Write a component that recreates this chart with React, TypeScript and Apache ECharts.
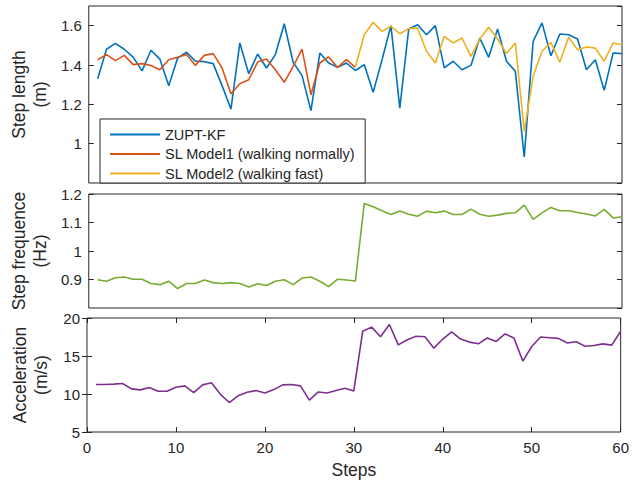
import React, { useEffect, useRef } from "react";
import * as echarts from "echarts";

const steps = [
  1, 2, 3, 4, 5, 6, 7, 8, 9, 10, 11, 12, 13, 14, 15, 16, 17, 18, 19, 20,
  21, 22, 23, 24, 25, 26, 27, 28, 29, 30, 31, 32, 33, 34, 35, 36, 37, 38, 39, 40,
  41, 42, 43, 44, 45, 46, 47, 48, 49, 50, 51, 52, 53, 54, 55, 56, 57, 58, 59, 60,
];

// Step length (m) — ZUPT-KF, steps 1..60
const zuptKF = [
  1.33, 1.48, 1.51, 1.48, 1.44, 1.37, 1.475, 1.43, 1.295, 1.435,
  1.465, 1.42, 1.417, 1.407, 1.295, 1.176, 1.512, 1.356, 1.456, 1.385,
  1.453, 1.61, 1.414, 1.346, 1.168, 1.461, 1.41, 1.388, 1.41, 1.372,
  1.402, 1.261, 1.427, 1.6, 1.181, 1.583, 1.605, 1.554, 1.6, 1.385,
  1.419, 1.376, 1.398, 1.537, 1.439, 1.583, 1.419, 1.368, 0.932, 1.52,
  1.614, 1.447, 1.558, 1.554, 1.532, 1.376, 1.427, 1.271, 1.461, 1.458,
];

// SL Model1 (walking normally), steps 1..30
const slModel1 = [
  1.427, 1.453, 1.422, 1.449, 1.402, 1.407, 1.397, 1.376, 1.427, 1.439,
  1.453, 1.398, 1.449, 1.458, 1.385, 1.254, 1.305, 1.325, 1.415, 1.431,
  1.376, 1.312, 1.393, 1.481, 1.249, 1.41, 1.441, 1.388, 1.427, 1.388,
];

// SL Model2 (walking fast), steps 30..60
const slModel2 = [
  1.39, 1.554, 1.617, 1.571, 1.597, 1.559, 1.585, 1.588, 1.47, 1.41,
  1.546, 1.512, 1.537, 1.444, 1.532, 1.592, 1.532, 1.458, 1.512, 1.063,
  1.342, 1.47, 1.515, 1.414, 1.541, 1.478, 1.492, 1.486, 1.419, 1.512,
  1.503,
];

// Step frequence (Hz), steps 1..60
const stepFreq = [
  0.899, 0.894, 0.906, 0.909, 0.901, 0.901, 0.886, 0.882, 0.894, 0.868,
  0.886, 0.886, 0.898, 0.889, 0.886, 0.889, 0.886, 0.874, 0.885, 0.879,
  0.894, 0.899, 0.882, 0.905, 0.909, 0.894, 0.875, 0.901, 0.898, 0.895,
  1.167, 1.155, 1.141, 1.128, 1.14, 1.129, 1.122, 1.14, 1.134, 1.14,
  1.128, 1.128, 1.147, 1.129, 1.122, 1.126, 1.132, 1.134, 1.161, 1.111,
  1.134, 1.153, 1.141, 1.141, 1.135, 1.13, 1.123, 1.146, 1.116, 1.12,
];

// Acceleration (m/s), steps 1..60
const accel = [
  11.25, 11.25, 11.3, 11.38, 10.67, 10.54, 10.85, 10.36, 10.36, 10.89,
  11.07, 10.18, 11.2, 11.47, 9.96, 8.88, 9.78, 10.22, 10.45, 10.13,
  10.58, 11.2, 11.25, 11.07, 9.2, 10.27, 10.13, 10.45, 10.76, 10.4,
  18.26, 18.8, 17.54, 19.15, 16.47, 17.14, 17.59, 17.54, 16.03, 17.23,
  18.17, 17.23, 16.83, 16.6, 17.37, 16.92, 17.9, 17.37, 14.33, 16.25,
  17.5, 17.41, 17.32, 16.7, 16.88, 16.29, 16.38, 16.6, 16.43, 18.26,
];

const xTicks = { min: 0, max: 60, interval: 10 };
const yLenTicks = { min: 0.8, max: 1.7, interval: 0.2 };
const yFreqTicks = { min: 0.8, max: 1.2, interval: 0.1 };
const yAccTicks = { min: 5, max: 20, interval: 5 };

const seriesNames = ["ZUPT-KF", "SL Model1 (walking normally)", "SL Model2 (walking fast)"];

const pairs = (xs: number[], ys: number[]) => ys.map((v, i) => [xs[i], v]);

const FONT = "Liberation Sans, Arial, Helvetica, sans-serif";
const AX = "#262626";

export default function App() {
  const ref = useRef<HTMLDivElement>(null);
  useEffect(() => {
    if (!ref.current) return;
    const chart = echarts.init(ref.current, undefined, { renderer: "svg" });

    const grids = [
      { left: 87, right: 10, top: 6, height: 177 },
      { left: 87, right: 10, top: 194, height: 114 },
      { left: 87, right: 10, top: 318, height: 114 },
    ].map((g) => ({ ...g, show: true, borderColor: AX, borderWidth: 1, backgroundColor: "#fff" }));

    const tickStyle = { show: true, inside: true, length: 5, lineStyle: { color: AX, width: 1 } };
    const labelStyle = { color: AX, fontSize: 15, fontFamily: FONT, lineHeight: 15 };
    const nameStyle = { color: AX, fontSize: 17.5, fontFamily: FONT, lineHeight: 21 };

    const xAxes: any[] = [
      { gridIndex: 0, type: "value", ...xTicks, show: false },
      { gridIndex: 1, type: "value", ...xTicks, show: false },
      {
        gridIndex: 2, type: "value", ...xTicks, position: "bottom",
        axisLine: { show: false }, axisTick: tickStyle, splitLine: { show: false },
        axisLabel: { ...labelStyle, margin: 8 },
        name: "Steps", nameLocation: "middle", nameGap: 29,
        nameTextStyle: { ...nameStyle, lineHeight: 18 },
      },
      {
        gridIndex: 2, type: "value", ...xTicks, position: "top",
        axisLine: { show: false }, axisTick: tickStyle, splitLine: { show: false },
        axisLabel: { show: false },
      },
    ];

    const mkY = (gi: number, t: any, name: string, extra: any) => [
      {
        gridIndex: gi, type: "value", ...t, position: "left",
        axisLine: { show: false }, axisTick: tickStyle, splitLine: { show: false },
        axisLabel: { ...labelStyle, margin: 7, ...extra },
        name, nameLocation: "middle", nameRotate: 90, nameGap: 36, nameTextStyle: nameStyle,
      },
      {
        gridIndex: gi, type: "value", ...t, position: "right",
        axisLine: { show: false }, axisTick: tickStyle, splitLine: { show: false },
        axisLabel: { show: false },
      },
    ];

    const yAxes: any[] = [
      ...mkY(0, yLenTicks, "Step length\n(m)", { showMinLabel: false, showMaxLabel: false }),
      ...mkY(1, yFreqTicks, "Step frequence\n(Hz)", { showMinLabel: false }),
      ...mkY(2, yAccTicks, "Acceleration\n(m/s)", {}),
    ];

    const line = (name: string, data: any, color: string, xi: number, yi: number) => ({
      name, type: "line", data, xAxisIndex: xi, yAxisIndex: yi,
      symbol: "none", showSymbol: false, lineStyle: { color, width: 1.6 }, itemStyle: { color },
      z: 2,
    });

    chart.setOption({
      animation: false,
      backgroundColor: "#fff",
      grid: grids,
      xAxis: xAxes,
      yAxis: yAxes,
      legend: {
        data: seriesNames,
        orient: "vertical",
        left: 100,
        top: 119,
        icon: "rect",
        itemWidth: 50,
        itemHeight: 2,
        itemGap: 2.5,
        padding: [7, 10, 1, 10],
        backgroundColor: "#fff",
        borderColor: AX,
        borderWidth: 1,
        borderRadius: 0,
        selectedMode: false,
        textStyle: { color: AX, fontSize: 14.5, fontFamily: FONT, lineHeight: 17 },
        z: 5,
      },
      series: [
        line(seriesNames[0], pairs(steps, zuptKF), "#0072BD", 0, 0),
        line(seriesNames[1], pairs(steps.slice(0, 30), slModel1), "#D95319", 0, 0),
        line(seriesNames[2], pairs(steps.slice(29), slModel2), "#EDB120", 0, 0),
        line("Step frequence", pairs(steps, stepFreq), "#77AC30", 1, 2),
        line("Acceleration", pairs(steps, accel), "#7E2F8E", 2, 4),
      ],
    });
    return () => chart.dispose();
  }, []);
  return (
    <div
      ref={ref}
      style={{ position: "fixed", left: 0, top: 0, width: 632, height: 484, background: "#fff" }}
    />
  );
}
